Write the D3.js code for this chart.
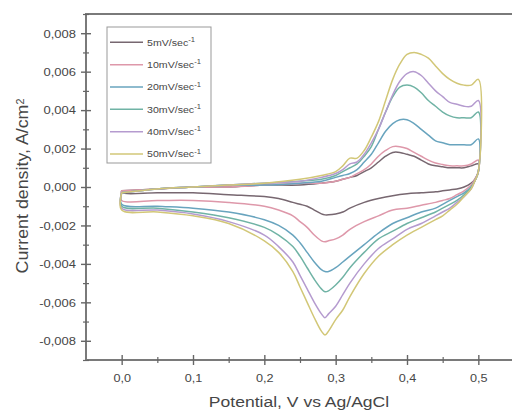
<!DOCTYPE html>
<html>
<head>
<meta charset="utf-8">
<script src="https://cdn.jsdelivr.net/npm/d3@7"></script>
<style>
  html, body { margin: 0; padding: 0; background: #fff; }
  svg { display: block; }
  text { font-family: "Liberation Sans", Arial, sans-serif; fill: #464646; }
</style>
</head>
<body>
<svg id="chart" width="512" height="414"></svg>
<script>
// Scan rates (legend order)
const scanRates = ["5mV/sec", "10mV/sec", "20mV/sec", "30mV/sec", "40mV/sec", "50mV/sec"];

// Forward (anodic) sweep potentials, V vs Ag/AgCl
const anodicPotential = [0.00, 0.05, 0.10, 0.15, 0.20, 0.25, 0.28, 0.30, 0.31, 0.32, 0.33, 0.34, 0.35, 0.36,
  0.37, 0.38, 0.39, 0.40, 0.41, 0.42, 0.43, 0.44, 0.45, 0.46, 0.47, 0.48, 0.49, 0.50];

// Reverse (cathodic) sweep potentials, V vs Ag/AgCl
const cathodicPotential = [0.50, 0.495, 0.49, 0.48, 0.47, 0.46, 0.45, 0.44, 0.42, 0.40, 0.38, 0.36, 0.34,
  0.32, 0.31, 0.30, 0.29, 0.285, 0.28, 0.27, 0.26, 0.25, 0.24, 0.22, 0.20, 0.15, 0.10, 0.05, 0.00];

// Current density on the forward sweep, A/cm2
const anodic5 = [-0.0002, -0.0001, 0.0000, 0.0000, 0.0001, 0.0001, 0.0002, 0.0003, 0.0004, 0.0005, 0.0006, 0.0008, 0.0010, 0.0013,
  0.0016, 0.0018, 0.0018, 0.0017, 0.0016, 0.0014, 0.0012, 0.0011, 0.00105, 0.0010, 0.0010, 0.0010, 0.0011, 0.0012];
const anodic10 = [-0.0002, -0.0001, 0.0000, 0.0000, 0.0001, 0.0002, 0.0002, 0.0003, 0.0004, 0.0005, 0.0007, 0.0009, 0.0012, 0.0016,
  0.0019, 0.0021, 0.0021, 0.0020, 0.0018, 0.0016, 0.0014, 0.00125, 0.00117, 0.0011, 0.0011, 0.0011, 0.0012, 0.0014];
const anodic20 = [-0.0003, -0.0001, 0.0000, 0.0001, 0.0001, 0.0002, 0.0003, 0.0005, 0.0006, 0.0007, 0.0009, 0.0013, 0.0017, 0.0023,
  0.0029, 0.0033, 0.0035, 0.0035, 0.0033, 0.0030, 0.0027, 0.0024, 0.0023, 0.0022, 0.0022, 0.0022, 0.0022, 0.0025];
const anodic30 = [-0.0003, -0.0001, 0.0000, 0.0001, 0.0002, 0.0003, 0.0004, 0.0006, 0.0008, 0.0010, 0.0012, 0.0016, 0.0021, 0.0030,
  0.0039, 0.0047, 0.0052, 0.0053, 0.0052, 0.0049, 0.0045, 0.0042, 0.0039, 0.0037, 0.0036, 0.0036, 0.0036, 0.0039];
const anodic40 = [-0.0003, -0.0001, 0.0000, 0.0001, 0.0002, 0.0003, 0.0005, 0.0007, 0.0009, 0.0012, 0.0013, 0.0017, 0.0023, 0.0030,
  0.0039, 0.0048, 0.0055, 0.0059, 0.0060, 0.0058, 0.0054, 0.0050, 0.0047, 0.0044, 0.0043, 0.0042, 0.0042, 0.0045];
const anodic50 = [-0.0003, -0.0001, 0.0000, 0.0001, 0.0002, 0.0004, 0.0006, 0.0008, 0.0011, 0.0015, 0.0015, 0.0019, 0.0026, 0.0034,
  0.0045, 0.0056, 0.0064, 0.0069, 0.0070, 0.0069, 0.0067, 0.0063, 0.0059, 0.0056, 0.0054, 0.0053, 0.0053, 0.0056];

// Current density on the reverse sweep, A/cm2
const cathodic5 = [0.0008, 0.0004, 0.0002, 0.0000, -0.0001, -0.00015, -0.0002, -0.00025, -0.0003, -0.00035, -0.00045, -0.0006, -0.0008,
  -0.0011, -0.0013, -0.0014, -0.00145, -0.00145, -0.0014, -0.0012, -0.0010, -0.0009, -0.0008, -0.0006, -0.0005, -0.0004, -0.0003, -0.0003, -0.0003];
const cathodic10 = [0.0008, 0.0004, 0.0001, -0.0002, -0.0004, -0.0006, -0.0007, -0.0008, -0.00095, -0.0011, -0.0012, -0.0015, -0.0018,
  -0.0022, -0.0025, -0.0027, -0.0028, -0.00285, -0.0028, -0.0025, -0.0021, -0.0018, -0.0015, -0.0012, -0.0010, -0.0008, -0.0007, -0.0007, -0.0007];
const cathodic20 = [0.0008, 0.0003, 0.0000, -0.0003, -0.0005, -0.0007, -0.0009, -0.0011, -0.0013, -0.0016, -0.0019, -0.0024, -0.0030,
  -0.0036, -0.0039, -0.0042, -0.0044, -0.0044, -0.0043, -0.0039, -0.0034, -0.0029, -0.0025, -0.0020, -0.0017, -0.0013, -0.0011, -0.0010, -0.0009];
const cathodic30 = [0.0008, 0.0003, 0.0000, -0.0004, -0.0007, -0.0009, -0.0011, -0.0013, -0.0016, -0.0019, -0.0023, -0.0027, -0.0034,
  -0.0042, -0.0047, -0.0051, -0.0054, -0.00545, -0.0053, -0.0048, -0.0042, -0.0036, -0.0031, -0.0025, -0.0021, -0.0016, -0.0013, -0.0011, -0.0010];
const cathodic40 = [0.0008, 0.0003, -0.0001, -0.0005, -0.0008, -0.0011, -0.0013, -0.0015, -0.0019, -0.0022, -0.0027, -0.0032, -0.0040,
  -0.0050, -0.0056, -0.0062, -0.0066, -0.0068, -0.0066, -0.0060, -0.0053, -0.0046, -0.0039, -0.0031, -0.0025, -0.0018, -0.0014, -0.0012, -0.0011];
const cathodic50 = [0.0008, 0.0003, -0.0001, -0.0005, -0.0009, -0.0012, -0.0015, -0.0017, -0.0021, -0.0025, -0.0030, -0.0036, -0.0045,
  -0.0057, -0.0064, -0.0069, -0.0075, -0.0077, -0.0075, -0.0068, -0.0060, -0.0052, -0.0044, -0.0034, -0.0028, -0.0019, -0.0015, -0.0013, -0.0012];

const anodicSeries = [anodic5, anodic10, anodic20, anodic30, anodic40, anodic50];
const cathodicSeries = [cathodic5, cathodic10, cathodic20, cathodic30, cathodic40, cathodic50];

// Axis ticks
const xTicks = [0.0, 0.1, 0.2, 0.3, 0.4, 0.5];
const xMinorTicks = [0.05, 0.15, 0.25, 0.35, 0.45];
const yTicks = [-0.008, -0.006, -0.004, -0.002, 0.000, 0.002, 0.004, 0.006, 0.008];
const yMinorTicks = [-0.009, -0.007, -0.005, -0.003, -0.001, 0.001, 0.003, 0.005, 0.007, 0.009];

const xTitle = "Potential, V vs Ag/AgCl";
const yTitle = "Current density, A/cm";

// ---- drawing ----
const colors = ["#776770", "#de98aa", "#68a4be", "#70b3a5", "#b59bcf", "#d2c777"];
const svg = d3.select("#chart");
const plotLeft = 86, plotRight = 514, plotTop = 14, plotBottom = 360;

const x = d3.scaleLinear().domain([-0.05, 0.55]).range([plotLeft, plotRight]);
const y = d3.scaleLinear().domain([-0.009, 0.009]).range([plotBottom, plotTop]);

const locale = d3.formatLocale({ decimal: ",", thousands: ".", grouping: [3], currency: ["", ""], minus: "-" });
const fmtY = locale.format(".3f");
const fmtX = locale.format(".1f");

// Curves: forward sweep, then reverse sweep, closed back at the starting potential
const line = d3.line()
  .x(d => x(d[0]))
  .y(d => y(d[1]))
  .curve(d3.curveCatmullRom.alpha(0.5));

const curves = svg.append("g");
scanRates.forEach((rate, i) => {
  const pts = anodicPotential.map((v, k) => [v, anodicSeries[i][k]])
    .concat(cathodicPotential.map((v, k) => [v, cathodicSeries[i][k]]));
  pts.push(pts[0]);
  curves.append("path")
    .attr("d", line(pts))
    .attr("fill", "none")
    .attr("stroke", colors[i])
    .attr("stroke-width", 1.5)
    .attr("stroke-linejoin", "round");
});

// Frame (the right edge lies just outside the canvas)
const frameColor = "#7a7a7a";
svg.append("path")
  .attr("d", `M${plotRight},${plotTop}H${plotLeft}V${plotBottom}H${plotRight}`)
  .attr("fill", "none").attr("stroke", frameColor).attr("stroke-width", 2);

// Left axis: major ticks crossing the axis line
const yAxis = svg.append("g").attr("transform", `translate(${plotLeft},0)`)
  .call(d3.axisLeft(y).tickValues(yTicks).tickSize(5).tickFormat(fmtY));
yAxis.select(".domain").remove();
yAxis.selectAll(".tick line").attr("x1", -5).attr("x2", 5).attr("stroke", "#666").attr("stroke-width", 1.4);
yAxis.selectAll(".tick text")
  .attr("x", 0).attr("dy", "0.35em")
  .attr("transform", "translate(-10,0) scale(1.18,1)")
  .style("font-size", "11px").attr("fill", "#464646");

const yMinor = svg.append("g").attr("transform", `translate(${plotLeft},0)`)
  .call(d3.axisLeft(y).tickValues(yMinorTicks).tickSize(3).tickFormat(""));
yMinor.select(".domain").remove();
yMinor.selectAll(".tick line").attr("x1", -3).attr("x2", 3).attr("stroke", "#666").attr("stroke-width", 1.2);

// Bottom axis
const xAxis = svg.append("g").attr("transform", `translate(0,${plotBottom})`)
  .call(d3.axisBottom(x).tickValues(xTicks).tickSize(5).tickFormat(fmtX));
xAxis.select(".domain").remove();
xAxis.selectAll(".tick line").attr("y1", -5).attr("y2", 5).attr("stroke", "#666").attr("stroke-width", 1.4);
xAxis.selectAll(".tick text")
  .attr("y", 22).attr("dy", 0)
  .attr("transform", "scale(1.15,1)")
  .style("font-size", "11px").attr("fill", "#464646");

const xMinor = svg.append("g").attr("transform", `translate(0,${plotBottom})`)
  .call(d3.axisBottom(x).tickValues(xMinorTicks).tickSize(3).tickFormat(""));
xMinor.select(".domain").remove();
xMinor.selectAll(".tick line").attr("y1", -3).attr("y2", 3).attr("stroke", "#666").attr("stroke-width", 1.2);

// Axis titles
svg.append("text")
  .attr("transform", "translate(299,407) scale(1.17,1)")
  .attr("text-anchor", "middle")
  .style("font-size", "15px")
  .text(xTitle);

const yt = svg.append("text")
  .attr("transform", "translate(28,186) rotate(-90) scale(1.08,1)")
  .attr("text-anchor", "middle")
  .style("font-size", "16.5px")
  .text(yTitle);
yt.append("tspan").attr("dy", "-0.45em").style("font-size", "10px").text("2");

// Legend
const legend = svg.append("g");
legend.append("rect")
  .attr("x", 107).attr("y", 27).attr("width", 104).attr("height", 136)
  .attr("fill", "#fff").attr("stroke", "#999").attr("stroke-width", 1);
scanRates.forEach((rate, i) => {
  const ly = 42.3 + i * 22.35;
  legend.append("line")
    .attr("x1", 110).attr("x2", 143).attr("y1", ly).attr("y2", ly)
    .attr("stroke", colors[i]).attr("stroke-width", 1.5);
  const t = legend.append("text")
    .attr("transform", `translate(147,${ly + 3.3}) scale(1.18,1)`)
    .style("font-size", "9px");
  t.append("tspan").text(rate);
  t.append("tspan").attr("dy", "-0.55em").style("font-size", "6.5px").text("-1");
});
</script>
</body>
</html>
